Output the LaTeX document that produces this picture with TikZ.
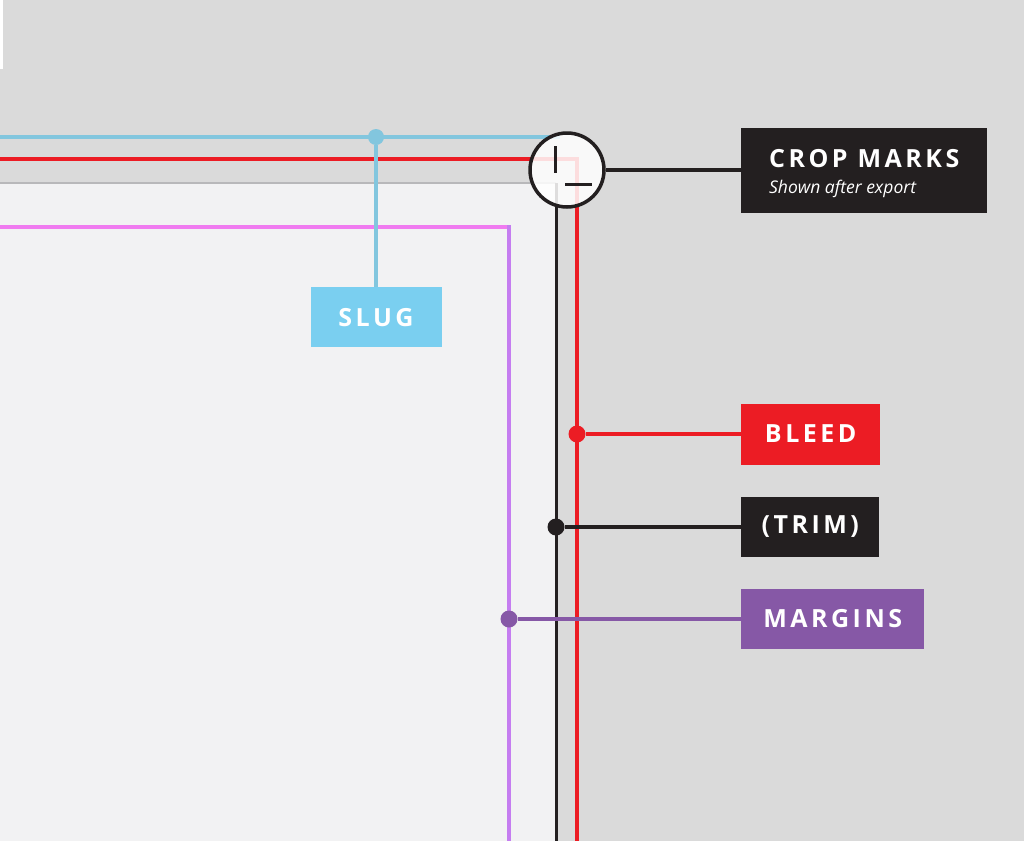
\documentclass[tikz,border=0pt]{standalone}
\usepackage{fontspec}
\setmainfont{Open Sans}
\newfontfamily\tagfont[LetterSpace=14]{Open Sans}
\usetikzlibrary{positioning,calc}
\definecolor{backgray}{HTML}{DADADA}
\definecolor{pagegray}{HTML}{F2F2F3}
\definecolor{edgegray}{HTML}{B8B8BA}
\definecolor{slugline}{HTML}{82C6DE}
\definecolor{slugblue}{HTML}{7ACFF0}
\definecolor{bleedred}{HTML}{EC1C24}
\definecolor{cropdark}{HTML}{231F20}
\definecolor{marginpink}{HTML}{F07BF0}
\definecolor{marginlilac}{HTML}{C57DF0}
\definecolor{marginpurple}{HTML}{8658A6}

\begin{document}
\begin{tikzpicture}[x=1pt,y=-1pt,
    tagbox/.style={fill=#1,text=white,anchor=west,minimum height=60pt,inner xsep=18pt,
      font=\tagfont\bfseries\fontsize{25}{28}\selectfont},
    dot/.style={circle,fill=#1,inner sep=0pt,minimum size=17pt}]
    % background, page and guides
    \fill[backgray] (0,0) rectangle (1024,841);
    \useasboundingbox (0,0) rectangle (1024,841);
    \fill[white] (0,0) rectangle (3,69);
    \fill[pagegray] (0,183) rectangle (556,841);
    \draw[edgegray,line width=1.5pt] (0,183) -- (556,183);
    \draw[slugline,line width=3.5pt] (0,137) -- (560,137);
    \draw[bleedred,line width=3.5pt] (0,159) -- (577,159) -- (577,841);
    \draw[cropdark,line width=3pt] (556,183) -- (556,841);
    \draw[marginpink,line width=4pt] (0,227) -- (509,227);
    \draw[marginlilac,line width=4pt] (509,225) -- (509,841);

    % crop marks
    \node[circle,draw=cropdark,line width=3.5pt,fill=white,fill opacity=0.85,minimum size=74pt] (mark) at (567,170) {};
    \draw[cropdark,line width=3pt] ([shift={(-12,-24)}]mark.center) -- ([shift={(-12,3)}]mark.center);
    \draw[cropdark,line width=3pt] ([shift={(-2,14)}]mark.center) -- ([shift={(25,14)}]mark.center);
    \node[tagbox=cropdark,minimum width=246pt,minimum height=85pt,align=left] (crop) at (741,170)
      {\rule{0pt}{26pt}CROP MARKS\\[-2pt]{\normalfont\itshape\fontsize{17.5}{19}\selectfont Shown after export}};
    \draw[cropdark,line width=4pt] (mark.east) -- (crop.west);

    % slug
    \node[dot=slugline,minimum size=16pt] (slugdot) at (376,137) {};
    \node[tagbox=slugblue,anchor=north,minimum width=131pt] (slug) at (376,287) {SLUG};
    \draw[slugline,line width=4pt] (slugdot) -- (slug.north);

    % bleed, trim, margins
    \node[dot=bleedred] (bleeddot) at (577,434) {};
    \node[tagbox=bleedred,minimum width=139pt,minimum height=61pt] (bleed) at (741,434) {BLEED};
    \draw[bleedred,line width=4pt] (bleeddot) -- (bleed.west);

    \node[dot=cropdark] (trimdot) at (556,527) {};
    \node[tagbox=cropdark,minimum width=138pt] (trim) at (741,527) {(TRIM)};
    \draw[cropdark,line width=4pt] (trimdot) -- (trim.west);

    \node[dot=marginpurple] (margindot) at (509,619) {};
    \node[tagbox=marginpurple,minimum width=183pt] (margins) at (741,619) {MARGINS};
    \draw[marginpurple,line width=4pt] (margindot) -- (margins.west);
  \end{tikzpicture}
\end{document}
